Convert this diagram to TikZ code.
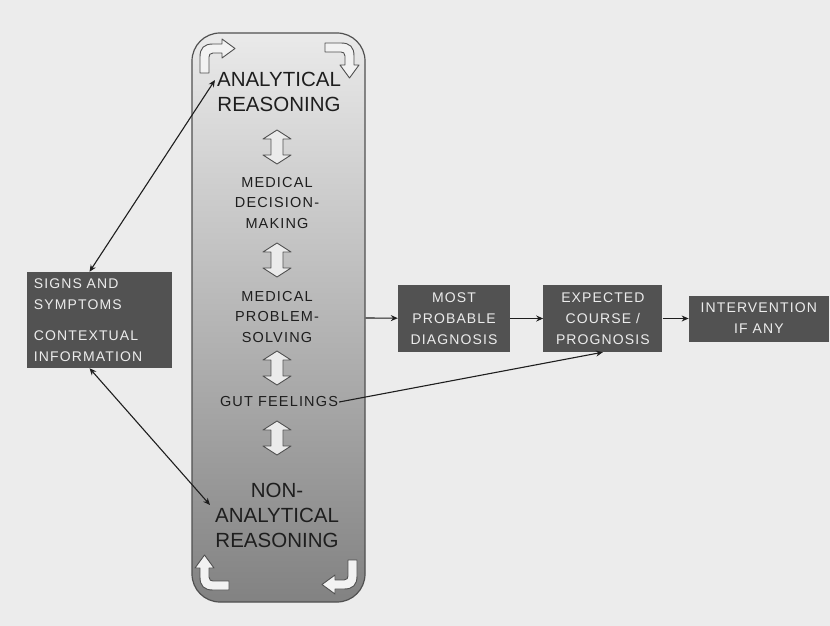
\documentclass[tikz,border=0pt]{standalone}
\usepackage{fontspec}
\setmainfont{Liberation Sans}
\newfontfamily\spacedfont[LetterSpace=8]{Liberation Sans}
\usetikzlibrary{arrows.meta, positioning}
\definecolor{bggray}{RGB}{236,236,236}
\definecolor{boxgray}{RGB}{82,82,82}
\definecolor{boxtext}{RGB}{236,236,236}
\definecolor{toplight}{RGB}{234,234,234}
\definecolor{bottomdark}{RGB}{130,130,130}
\definecolor{edgegray}{RGB}{80,80,80}
\definecolor{inkgray}{RGB}{30,30,30}

\begin{document}
\begin{tikzpicture}[x=1pt, y=-1pt,
    darkbox/.style={fill=boxgray, text=boxtext, align=center, inner sep=0pt,
                    font=\spacedfont\fontsize{14}{21}\selectfont},
    stage/.style={align=center, text=inkgray, inner sep=1pt,
                  font=\spacedfont\fontsize{14.5}{20.5}\selectfont},
    mode/.style={align=center, text=inkgray, inner sep=1pt,
                 font=\fontsize{20.5}{25}\selectfont},
    arr/.style={-{Stealth[length=7pt, width=6pt]}, line width=1.1pt, inkgray},
    twoway/.style={{Stealth[length=7pt, width=6pt]}-{Stealth[length=7pt, width=6pt]},
                   line width=1.1pt, inkgray},
    bent/.pic={\draw[edgegray, fill=white!95!black, line width=0.9pt, line join=round]
        (0,0) -- (0,-16) .. controls (0,-25) and (4,-29) .. (13,-29) -- (22,-29)
        -- (22,-34) -- (35,-24.5) -- (22,-15) -- (22,-20) -- (13,-20)
        .. controls (10,-20) and (9,-18) .. (9,-16) -- (9,0) -- cycle;},
    updown/.pic={\draw[edgegray, fill=white!92!black, line width=0.9pt, line join=round]
        (0,-17) -- (14,-8) -- (6,-8) -- (6,8) -- (14,8) -- (0,17)
        -- (-14,8) -- (-6,8) -- (-6,-8) -- (-14,-8) -- cycle;}
  ]
    \fill[bggray] (0,0) rectangle (830,626);
    \useasboundingbox (0,0) rectangle (830,626);

    % reasoning column
    \node[draw=edgegray, line width=1.2pt, rounded corners=28pt, top color=toplight,
          bottom color=bottomdark, minimum width=173pt, minimum height=569pt]
          (col) at (278.5,317.5) {};
    \pic at (200,73) {bent};
    \pic[rotate=-90] at (325,43) {bent};
    \pic[rotate=180] at (357,560) {bent};
    \pic[rotate=90] at (229,590) {bent};

    \node[mode] (ana) at (279,92) {ANALYTICAL\\REASONING};
    \pic at (277,147) {updown};
    \node[stage] (dec) at (277,203) {MEDICAL\\DECISION-\\MAKING};
    \pic at (277,260) {updown};
    \node[stage] (prob) at (277,317) {MEDICAL\\PROBLEM-\\SOLVING};
    \pic at (277,368) {updown};
    \node[stage] (gut) at (279,402) {GUT FEELINGS};
    \pic at (277,438) {updown};
    \node[mode] (non) at (277,515) {NON-\\ANALYTICAL\\REASONING};

    % input and outcome boxes
    \node[darkbox, align=left, text width=131pt, minimum height=96pt, inner xsep=7pt]
          (signs) at (99.5,320) {SIGNS AND\\SYMPTOMS\\[10pt]CONTEXTUAL\\INFORMATION};
    \node[darkbox, minimum width=112pt, minimum height=67pt] (diag) at (454,318.5)
          {MOST\\PROBABLE\\DIAGNOSIS};
    \node[darkbox, minimum width=119pt, minimum height=67pt, right=33pt of diag]
          (course) {EXPECTED\\COURSE /\\PROGNOSIS};
    \node[darkbox, minimum width=140pt, minimum height=46pt, right=26pt of course]
          (act) {INTERVENTION\\IF ANY};

    \coordinate (anatip) at (215,80);
    \coordinate (nontip) at (210,505);

    \draw[twoway] ([xshift=-10pt]signs.north) -- (anatip);
    \draw[twoway] ([xshift=-10pt]signs.south) -- (nontip);
    \draw[arr] (col) -- (diag);
    \draw[arr] (diag) -- (course);
    \draw[arr] (course) -- (act);
    \draw[arr] (gut.east) -- (course.south);
  \end{tikzpicture}
\end{document}
